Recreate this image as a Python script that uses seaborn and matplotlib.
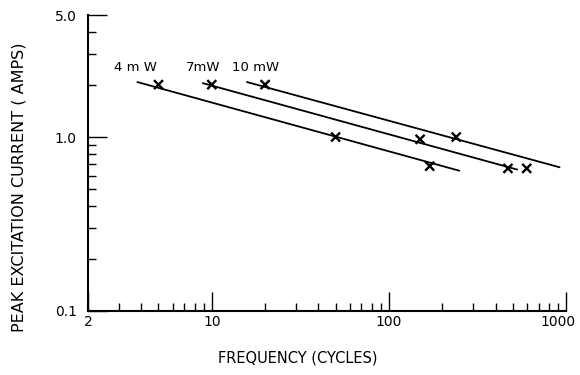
import pandas as pd
import numpy as np
import matplotlib
matplotlib.use("Agg")
import matplotlib.pyplot as plt
import matplotlib.transforms as mtransforms
import seaborn as sns
from matplotlib.ticker import FixedLocator, NullFormatter, LogLocator

# measured points (x marks)
powers = ["4mW", "7mW", "10mW"]
freq_4mw = [5, 50, 170]
amps_4mw = [2.0, 1.0, 0.68]
freq_7mw = [10, 150, 470]
amps_7mw = [2.0, 0.97, 0.66]
freq_10mw = [20, 240, 600]
amps_10mw = [2.0, 1.0, 0.66]

# ends of the straight fitted lines
line_freq_4mw = [3.8, 250]
line_amps_4mw = [2.07, 0.64]
line_freq_7mw = [8.9, 530]
line_amps_7mw = [2.04, 0.65]
line_freq_10mw = [15.8, 920]
line_amps_10mw = [2.07, 0.67]

labels = ["4 m W", "7mW", "10 mW"]
label_freq = [3.7, 8.9, 17.6]
label_amps = [2.5, 2.5, 2.5]

pts = pd.DataFrame({
    "power": ["4mW"] * 3 + ["7mW"] * 3 + ["10mW"] * 3,
    "freq": freq_4mw + freq_7mw + freq_10mw,
    "amps": amps_4mw + amps_7mw + amps_10mw,
})
fits = pd.DataFrame({
    "power": ["4mW"] * 2 + ["7mW"] * 2 + ["10mW"] * 2,
    "freq": line_freq_4mw + line_freq_7mw + line_freq_10mw,
    "amps": line_amps_4mw + line_amps_7mw + line_amps_10mw,
})

sns.set_style("ticks")
plt.rcParams["font.family"] = ["DejaVu Sans"]
plt.rcParams["text.color"] = "black"
plt.rcParams["axes.labelcolor"] = "black"
plt.rcParams["xtick.color"] = "black"
plt.rcParams["ytick.color"] = "black"

fig = plt.figure(figsize=(5.8, 3.75), dpi=100)
ax = fig.add_axes([88 / 580, 1 - 311 / 375, 478 / 580, (311 - 15.4) / 375])

black = {p: "black" for p in powers}
sns.lineplot(data=fits, x="freq", y="amps", hue="power", palette=black,
             legend=False, linewidth=1.3, ax=ax, estimator=None, sort=False)
sns.scatterplot(data=pts, x="freq", y="amps", hue="power", palette=black,
                legend=False, marker="x", s=42, linewidth=1.7, ax=ax, zorder=3)

ax.set_xscale("log")
ax.set_yscale("log")
ax.set_xlim(2, 1000)
ax.set_ylim(0.1, 5.0)

for txt, fx, ay in zip(labels, label_freq, label_amps):
    ax.text(fx, ay, txt, ha="center", va="center", fontsize=9.5)

# ticks
ax.xaxis.set_major_locator(FixedLocator([2, 10, 100, 1000]))
ax.set_xticklabels(["2", "10", "100", "1000"])
ax.xaxis.set_minor_locator(LogLocator(base=10, subs=np.arange(2, 10)))
ax.xaxis.set_minor_formatter(NullFormatter())
ax.yaxis.set_major_locator(FixedLocator([0.1, 1.0, 5.0]))
ax.set_yticklabels(["0.1", "1.0", "5.0"])
ax.yaxis.set_minor_locator(LogLocator(base=10, subs=np.arange(2, 10)))
ax.yaxis.set_minor_formatter(NullFormatter())

ax.tick_params(which="major", direction="in", length=14, width=1.0, labelsize=10, color="black")
ax.tick_params(which="minor", direction="in", length=6, width=1.0, color="black")
ax.tick_params(axis="x", which="major", pad=3)
ax.tick_params(axis="y", which="major", pad=8)

# keep the last x label inside the picture
last = ax.get_xticklabels()[-1]
last.set_transform(last.get_transform() + mtransforms.ScaledTranslation(-8 / 100, 0, fig.dpi_scale_trans))

sns.despine(ax=ax)
for s in ["left", "bottom"]:
    ax.spines[s].set_linewidth(1.5)
    ax.spines[s].set_color("black")

ax.set_xlabel("FREQUENCY (CYCLES)", fontsize=10.5)
ax.set_ylabel("PEAK EXCITATION CURRENT ( AMPS)", fontsize=11.5)
ax.xaxis.set_label_coords(0.439, -0.132)
ax.yaxis.set_label_coords(-0.128, 0.419)

fig.savefig("out.png", dpi=100)
